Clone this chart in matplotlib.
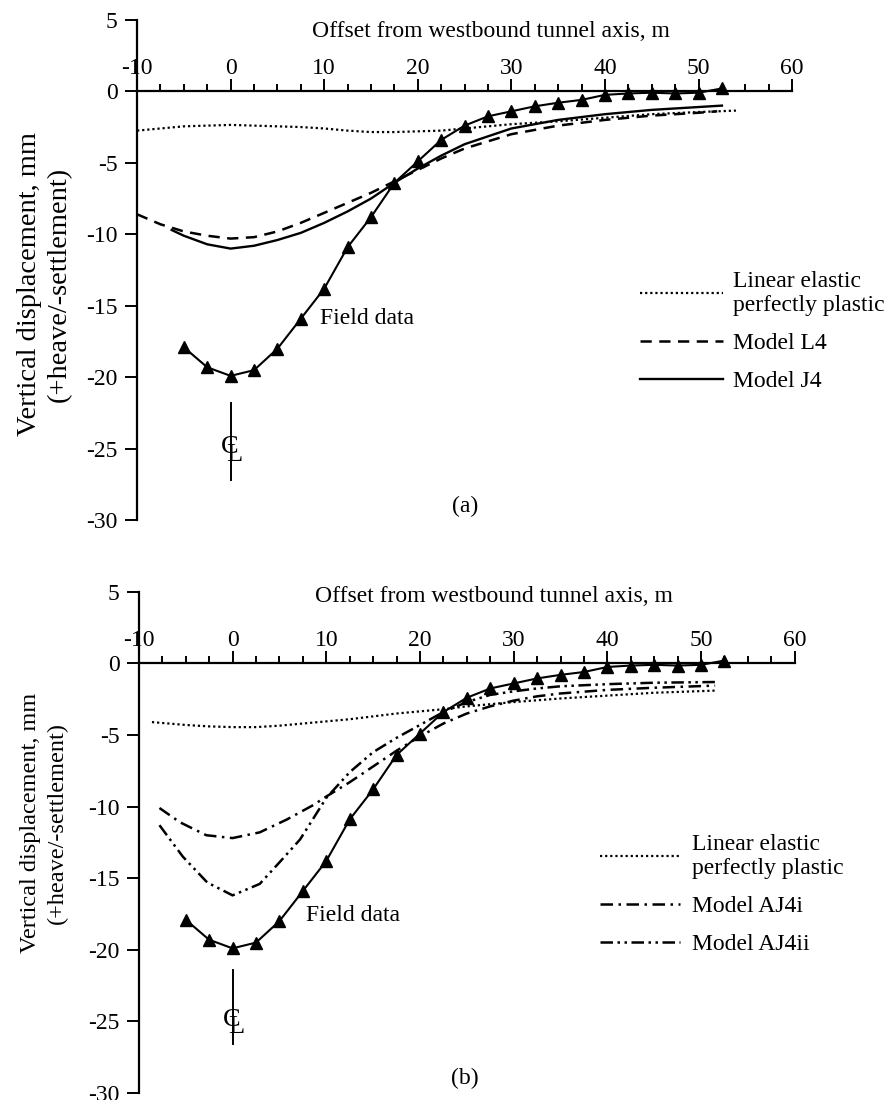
import numpy as np
import matplotlib
matplotlib.use("Agg")
import matplotlib.pyplot as plt
from matplotlib.ticker import MultipleLocator

plt.rcParams['font.family'] = ['Liberation Serif', 'DejaVu Serif']
plt.rcParams['axes.unicode_minus'] = False

# Field data (same for both panels)
field_x = [-5, -2.5, 0, 2.5, 5, 7.5, 10, 12.5, 15, 17.5, 20, 22.5, 25, 27.5,
           30, 32.5, 35, 37.5, 40, 42.5, 45, 47.5, 50, 52.5]
field_y = [-17.9, -19.3, -19.9, -19.5, -18.0, -15.9, -13.8, -10.9, -8.8, -6.4,
           -4.9, -3.4, -2.4, -1.75, -1.4, -1.05, -0.8, -0.6, -0.25, -0.15,
           -0.1, -0.15, -0.1, 0.2]

# Panel (a)
lepp_a_x = [-10, -7.5, -5, -2.5, 0, 2.5, 5, 7.5, 10, 12.5, 15, 17.5, 20, 22.5,
            25, 27.5, 30, 35, 40, 45, 50, 54]
lepp_a_y = [-2.75, -2.6, -2.45, -2.4, -2.35, -2.4, -2.45, -2.5, -2.6, -2.75,
            -2.85, -2.85, -2.8, -2.75, -2.6, -2.45, -2.3, -2.1, -1.85, -1.6,
            -1.45, -1.35]
l4_x = [-10, -7.5, -5, -2.5, 0, 2.5, 5, 7.5, 10, 12.5, 15, 17.5, 20, 22.5,
        25, 30, 35, 40, 45, 50, 52]
l4_y = [-8.6, -9.3, -9.8, -10.1, -10.3, -10.2, -9.8, -9.2, -8.5, -7.8, -7.1,
        -6.3, -5.5, -4.7, -4.0, -3.0, -2.4, -2.0, -1.7, -1.5, -1.4]
j4_x = [-6.3, -5, -2.5, 0, 2.5, 5, 7.5, 10, 12.5, 15, 17.5, 20, 22.5, 25,
        30, 35, 40, 45, 50, 52.5]
j4_y = [-9.7, -10.1, -10.7, -11.0, -10.8, -10.4, -9.9, -9.2, -8.4, -7.5,
        -6.4, -5.4, -4.5, -3.7, -2.6, -2.0, -1.6, -1.3, -1.1, -1.0]

# Panel (b)
lepp_b_x = [-8.6, -5, -2.5, 0, 2.5, 5, 7.5, 10, 12.5, 15, 17.5, 20, 22.5,
            25, 30, 35, 40, 45, 51.5]
lepp_b_y = [-4.1, -4.3, -4.4, -4.45, -4.45, -4.35, -4.2, -4.05, -3.9, -3.7,
            -3.5, -3.35, -3.2, -3.0, -2.7, -2.45, -2.25, -2.05, -1.9]
aj4i_x = [-7.8, -5.6, -2.8, 0, 2.9, 5.8, 8.6, 10, 12.5, 15, 17.5, 20, 22.5,
          25, 27.5, 30, 32.5, 35, 40, 45, 51.5]
aj4i_y = [-10.1, -11.1, -12.0, -12.2, -11.8, -10.9, -9.9, -9.3, -8.3, -7.2,
          -6.1, -5.1, -4.2, -3.5, -3.0, -2.6, -2.3, -2.1, -1.85, -1.7, -1.55]
aj4ii_x = [-7.8, -5.3, -2.7, 0, 2.9, 5.0, 7.2, 10, 12.5, 15, 17.5, 20, 22.5,
           25, 27.5, 30, 32.5, 35, 40, 45, 51.5]
aj4ii_y = [-11.3, -13.5, -15.3, -16.2, -15.4, -13.9, -12.3, -9.4, -7.6, -6.2,
           -5.2, -4.3, -3.4, -2.7, -2.2, -1.95, -1.75, -1.6, -1.45, -1.35, -1.3]

x_ticks = [-10, 0, 10, 20, 30, 40, 50, 60]
y_ticks = [5, 0, -5, -10, -15, -20, -25, -30]

FS = 17
dotted = (0, (1, 1.3))
dashed = (0, (4.5, 3))
dashdot = (0, (5, 2.2, 1, 2.2))
dashdotdot = (0, (5, 1.8, 1, 1.8, 1, 1.8))


def style_axes(ax, xlabel_y, ylab_pos, ylab_size, ylab_spacing):
    ax.set_xlim(-10, 60)
    ax.set_ylim(-30, 5)
    ax.spines['right'].set_visible(False)
    ax.spines['bottom'].set_visible(False)
    ax.spines['top'].set_position(('data', 0))
    ax.spines['top'].set_linewidth(1.6)
    ax.spines['left'].set_linewidth(1.6)
    ax.xaxis.tick_top()
    ax.set_xticks(x_ticks)
    ax.xaxis.set_minor_locator(MultipleLocator(2.5))
    ax.set_yticks(y_ticks)
    ax.tick_params(axis='x', which='major', direction='out', length=9,
                   width=1.4, pad=0, labelsize=FS)
    ax.tick_params(axis='x', which='minor', direction='out', length=5,
                   width=1.4)
    ax.tick_params(axis='y', direction='out', length=9, width=1.4, pad=5,
                   labelsize=FS)
    ax.xaxis.set_label_position('top')
    ax.set_xlabel("Offset from westbound tunnel axis, m", fontsize=FS)
    ax.xaxis.set_label_coords(0.541, xlabel_y)
    ax.set_ylabel("Vertical displacement, mm\n(+heave/-settlement)",
                  fontsize=ylab_size, linespacing=ylab_spacing)
    ax.yaxis.set_label_coords(*ylab_pos)


def centre_line(ax, y0, y1):
    ax.plot([0, 0], [y0, y1], color='black', lw=1.4)
    ax.text(-0.1, -24.9, "C", fontsize=FS + 2, ha='center', va='center')
    ax.text(0.35, -25.4, "L", fontsize=FS + 2, ha='center', va='center')


fig = plt.figure(figsize=(8.9, 11), dpi=100)

# (a)
ax1 = fig.add_axes([0.154, 0.527, 0.736, 0.455])
ax1.plot(lepp_a_x, lepp_a_y, color='black', lw=1.6, linestyle=dotted,
         label="Linear elastic\nperfectly plastic")
ax1.plot(l4_x, l4_y, color='black', lw=1.8, linestyle=dashed, label="Model L4")
ax1.plot(j4_x, j4_y, color='black', lw=1.7, label="Model J4")
ax1.plot(field_x, field_y, color='black', lw=1.5, marker='^', markersize=9)
ax1.text(9.6, -15.9, "Field data", fontsize=FS, va='center')
centre_line(ax1, -21.8, -27.2)
ax1.text(25.1, -29.0, "(a)", fontsize=FS, ha='center', va='center')
style_axes(ax1, 0.966, (-0.099, 0.472), 20.5, 1.28)
ax1.legend(loc='upper left', bbox_to_anchor=(0.768, 0.499), frameon=False,
           fontsize=FS, handlelength=3.5, handletextpad=0.45, borderpad=0,
           borderaxespad=0, labelspacing=0.7)

# (b)
ax2 = fig.add_axes([0.156, 0.0064, 0.737, 0.4556])
ax2.plot(lepp_b_x, lepp_b_y, color='black', lw=1.6, linestyle=dotted,
         label="Linear elastic\nperfectly plastic")
ax2.plot(aj4i_x, aj4i_y, color='black', lw=1.8, linestyle=dashdot,
         label="Model AJ4i")
ax2.plot(aj4ii_x, aj4ii_y, color='black', lw=1.8, linestyle=dashdotdot,
         label="Model AJ4ii")
ax2.plot(field_x, field_y, color='black', lw=1.5, marker='^', markersize=9)
ax2.text(7.8, -17.6, "Field data", fontsize=FS, va='center')
centre_line(ax2, -21.4, -26.6)
ax2.text(24.8, -29.0, "(b)", fontsize=FS, ha='center', va='center')
style_axes(ax2, 0.98, (-0.108, 0.539), 17.5, 1.38)
ax2.legend(loc='upper left', bbox_to_anchor=(0.703, 0.517), frameon=False,
           fontsize=FS, handlelength=3.4, handletextpad=0.5, borderpad=0,
           borderaxespad=0, labelspacing=0.7)

fig.savefig("out.png", dpi=100)
